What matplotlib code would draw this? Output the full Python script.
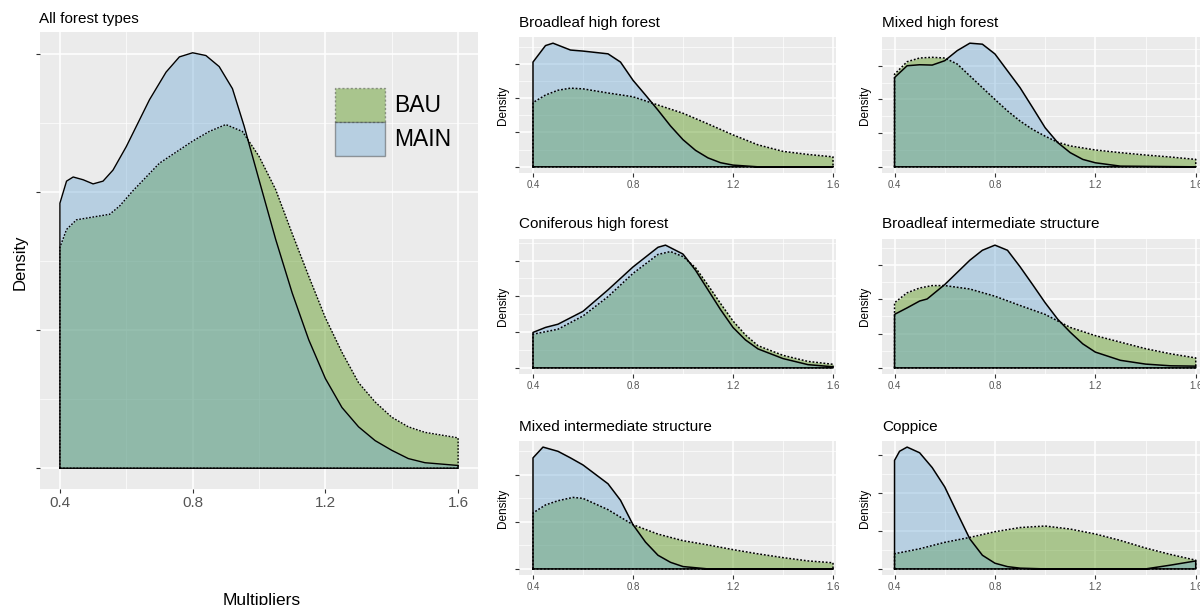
import matplotlib.pyplot as plt
from matplotlib.patches import Patch

plt.rcParams['font.family'] = ['Liberation Sans', 'DejaVu Sans']

# density readings per panel, x = multiplier
allX_MAIN = [0.40, 0.42, 0.44, 0.47, 0.50, 0.53, 0.56, 0.60, 0.67, 0.72, 0.76, 0.80, 0.84, 0.88,
	0.92, 0.955, 1.00, 1.05, 1.10, 1.15, 1.20, 1.25, 1.30, 1.35, 1.40, 1.45, 1.50, 1.55, 1.60]
allY_MAIN = [1.92, 2.08, 2.11, 2.09, 2.06, 2.08, 2.16, 2.33, 2.67, 2.87, 2.98, 3.01, 2.99, 2.91,
	2.75, 2.48, 2.09, 1.66, 1.27, 0.93, 0.65, 0.44, 0.30, 0.20, 0.13, 0.07, 0.04, 0.03, 0.02]
allX_BAU = [0.40, 0.42, 0.45, 0.50, 0.55, 0.58, 0.62, 0.70, 0.80, 0.85, 0.90, 0.95, 1.00, 1.05,
	1.10, 1.15, 1.20, 1.25, 1.30, 1.35, 1.40, 1.45, 1.50, 1.55, 1.60]
allY_BAU = [1.60, 1.73, 1.80, 1.82, 1.84, 1.90, 2.01, 2.21, 2.37, 2.44, 2.49, 2.44, 2.26, 2.02,
	1.70, 1.39, 1.09, 0.84, 0.62, 0.48, 0.37, 0.30, 0.26, 0.24, 0.22]

blhfX_MAIN = [0.40, 0.45, 0.48, 0.55, 0.60, 0.70, 0.75, 0.80, 0.85, 0.90, 0.95, 1.00, 1.05, 1.10,
	1.15, 1.20, 1.30, 1.60]
blhfY_MAIN = [3.05, 3.53, 3.60, 3.40, 3.37, 3.29, 3.05, 2.52, 2.09, 1.65, 1.19, 0.79, 0.48, 0.26,
	0.12, 0.05, 0.0, 0.0]
blhfX_BAU = [0.40, 0.45, 0.50, 0.55, 0.60, 0.70, 0.80, 0.90, 1.00, 1.10, 1.20, 1.30, 1.40, 1.50, 1.60]
blhfY_BAU = [1.87, 2.09, 2.23, 2.29, 2.27, 2.15, 2.04, 1.80, 1.56, 1.25, 0.93, 0.64, 0.45, 0.36, 0.29]

mxhfX_MAIN = [0.40, 0.45, 0.50, 0.55, 0.60, 0.65, 0.70, 0.75, 0.80, 0.85, 0.90, 0.95, 1.00, 1.05,
	1.10, 1.15, 1.20, 1.30, 1.60]
mxhfY_MAIN = [2.65, 3.00, 3.03, 3.02, 3.15, 3.45, 3.67, 3.64, 3.35, 2.85, 2.35, 1.76, 1.16, 0.72,
	0.42, 0.22, 0.12, 0.02, 0.0]
mxhfX_BAU = [0.40, 0.45, 0.50, 0.55, 0.60, 0.65, 0.70, 0.75, 0.80, 0.85, 0.90, 0.95, 1.00, 1.05,
	1.10, 1.20, 1.30, 1.40, 1.50, 1.60]
mxhfY_BAU = [2.75, 3.12, 3.23, 3.25, 3.23, 3.05, 2.70, 2.35, 2.00, 1.66, 1.36, 1.11, 0.91, 0.73,
	0.62, 0.50, 0.42, 0.35, 0.29, 0.22]

cnhfX_MAIN = [0.40, 0.45, 0.50, 0.60, 0.70, 0.80, 0.90, 0.93, 1.00, 1.05, 1.10, 1.15, 1.20, 1.25,
	1.30, 1.40, 1.50, 1.60]
cnhfY_MAIN = [0.99, 1.13, 1.22, 1.58, 2.18, 2.82, 3.37, 3.43, 3.18, 2.73, 2.18, 1.63, 1.13, 0.78,
	0.53, 0.26, 0.09, 0.03]
cnhfX_BAU = [0.40, 0.50, 0.60, 0.70, 0.80, 0.90, 0.95, 1.00, 1.05, 1.10, 1.15, 1.20, 1.25, 1.30,
	1.40, 1.50, 1.60]
cnhfY_BAU = [0.94, 1.08, 1.45, 1.99, 2.64, 3.17, 3.25, 3.11, 2.80, 2.31, 1.80, 1.31, 0.92, 0.62,
	0.35, 0.18, 0.10]

blisX_MAIN = [0.40, 0.45, 0.50, 0.53, 0.60, 0.70, 0.75, 0.80, 0.85, 0.90, 0.95, 1.00, 1.05, 1.10,
	1.15, 1.20, 1.30, 1.40, 1.50, 1.60]
blisY_MAIN = [1.56, 1.75, 1.95, 2.01, 2.43, 3.14, 3.43, 3.58, 3.43, 2.95, 2.43, 1.90, 1.42, 1.04,
	0.70, 0.46, 0.22, 0.11, 0.06, 0.05]
blisX_BAU = [0.40, 0.45, 0.50, 0.55, 0.60, 0.70, 0.80, 0.90, 1.00, 1.10, 1.20, 1.30, 1.40, 1.50, 1.60]
blisY_BAU = [1.90, 2.19, 2.33, 2.40, 2.40, 2.30, 2.09, 1.82, 1.56, 1.18, 0.94, 0.75, 0.56, 0.41, 0.29]

mxisX_MAIN = [0.40, 0.44, 0.50, 0.55, 0.60, 0.65, 0.70, 0.75, 0.80, 0.85, 0.90, 0.95, 1.00, 1.10, 1.60]
mxisY_MAIN = [2.36, 2.59, 2.50, 2.36, 2.21, 2.01, 1.81, 1.46, 0.94, 0.57, 0.29, 0.14, 0.05, 0.0, 0.0]
mxisX_BAU = [0.40, 0.45, 0.50, 0.56, 0.60, 0.70, 0.80, 0.90, 1.00, 1.10, 1.20, 1.30, 1.40, 1.50, 1.60]
mxisY_BAU = [1.19, 1.36, 1.45, 1.52, 1.50, 1.26, 0.94, 0.74, 0.60, 0.51, 0.41, 0.32, 0.24, 0.17, 0.13]

copX_MAIN = [0.40, 0.42, 0.45, 0.50, 0.55, 0.60, 0.65, 0.70, 0.75, 0.80, 0.85, 0.90, 1.00, 1.40,
	1.50, 1.60]
copY_MAIN = [2.86, 3.10, 3.21, 3.06, 2.67, 2.16, 1.47, 0.79, 0.36, 0.15, 0.06, 0.02, 0.0, 0.0,
	0.10, 0.21]
copX_BAU = [0.40, 0.50, 0.60, 0.70, 0.80, 0.90, 1.00, 1.10, 1.20, 1.30, 1.40, 1.50, 1.60]
copY_BAU = [0.40, 0.53, 0.70, 0.83, 0.98, 1.09, 1.13, 1.05, 0.92, 0.75, 0.55, 0.38, 0.23]

panelTitles = ["Broadleaf high forest", "Mixed high forest", "Coniferous high forest",
	"Broadleaf intermediate structure", "Mixed intermediate structure", "Coppice"]
xTicks = [0.4, 0.8, 1.2, 1.6]
xTickLabels = ["0.4", "0.8", "1.2", "1.6"]
scenarios = ["BAU", "MAIN"]

bauColor = '#468c02'
mainColor = '#6ba7d4'
fillAlpha = 0.4
panelGrey = '#ebebeb'

W, H = 1200.0, 605.0

def pxAxes(fig, left, top, right, bottom):
	return fig.add_axes([left / W, 1 - bottom / H, (right - left) / W, (bottom - top) / H])

def outline(xs, ys):
	# closed polygon like geom_density draws it
	return [xs[0]] + xs + [xs[-1], xs[0]], [0] + ys + [0, 0]

def plotPanel(ax, xMain, yMain, xBau, yBau, xlim, lw, tickSize):
	ymax = max(max(yMain), max(yBau))
	ax.set_facecolor(panelGrey)
	ax.fill_between(xBau, yBau, 0, color=bauColor, alpha=fillAlpha, lw=0)
	ax.fill_between(xMain, yMain, 0, color=mainColor, alpha=fillAlpha, lw=0)
	bx, by = outline(xBau, yBau)
	ax.plot(bx, by, color='black', lw=lw, ls=(0, (1.2, 1.2)), solid_joinstyle='round')
	mx, my = outline(xMain, yMain)
	ax.plot(mx, my, color='black', lw=lw, solid_joinstyle='round')

	ax.set_xlim(xlim)
	ax.set_ylim(-0.05 * ymax, 1.05 * ymax)
	ax.set_xticks(xTicks)
	ax.set_xticklabels(xTickLabels)
	ax.set_xticks([0.6, 1.0, 1.4], minor=True)
	yt = list(range(0, int(1.05 * ymax) + 1))
	ax.set_yticks(yt)
	ax.set_yticks([v + 0.5 for v in yt if v + 0.5 < 1.05 * ymax], minor=True)
	ax.tick_params(axis='y', labelleft=False)
	ax.tick_params(which='major', length=3, width=0.8, color='#333333', pad=2,
		labelsize=tickSize, labelcolor='#555555')
	ax.tick_params(which='minor', length=0)
	ax.grid(which='major', color='white', lw=1.1)
	ax.grid(which='minor', color='white', lw=0.5)
	ax.set_axisbelow(True)
	for s in ax.spines.values():
		s.set_visible(False)


fig = plt.figure(figsize=(12, 6.05), dpi=100, facecolor='white')

# big panel: all forest types
ax0 = pxAxes(fig, 40, 32, 478, 489)
plotPanel(ax0, allX_MAIN, allY_MAIN, allX_BAU, allY_BAU, (0.34, 1.66), 1.0, 11)
fig.text(39 / W, 1 - 23 / H, "All forest types", fontsize=11, va='baseline', ha='left')
fig.text(20 / W, 1 - 262 / H, "Density", fontsize=12, rotation=90, va='center', ha='center')
fig.text(262 / W, 1 - 605 / H, "Multipliers", fontsize=12.5, va='baseline', ha='center')

handles = [Patch(facecolor=bauColor, alpha=fillAlpha, edgecolor='#222222', ls=(0, (1.5, 1.5)), lw=1.0),
	Patch(facecolor=mainColor, alpha=fillAlpha, edgecolor='#444444', lw=1.0)]
leg = ax0.legend(handles, scenarios, loc='upper left', bbox_to_anchor=(335 / W, 1 - 88 / H),
	bbox_transform=fig.transFigure, frameon=False, fontsize=16.5, handlelength=2.2,
	handleheight=1.9, labelspacing=0, handletextpad=0.4, borderpad=0, borderaxespad=0)
for lh in leg.legend_handles:
	lh.set_edgecolor('#222222')

# small panels, 2 columns x 3 rows
panelData = [
	(blhfX_MAIN, blhfY_MAIN, blhfX_BAU, blhfY_BAU),
	(mxhfX_MAIN, mxhfY_MAIN, mxhfX_BAU, mxhfY_BAU),
	(cnhfX_MAIN, cnhfY_MAIN, cnhfX_BAU, cnhfY_BAU),
	(blisX_MAIN, blisY_MAIN, blisX_BAU, blisY_BAU),
	(mxisX_MAIN, mxisY_MAIN, mxisX_BAU, mxisY_BAU),
	(copX_MAIN, copY_MAIN, copX_BAU, copY_BAU),
]
cols = [(519, 836, 503, (0.344, 1.612)), (882, 1200, 865, (0.35, 1.617))]
rows = [(37, 173, 27), (239, 374, 228), (441, 575, 431)]

for i in range(6):
	left, right, labX, xl = cols[i % 2]
	top, bottom, titleY = rows[i // 2]
	ax = pxAxes(fig, left, top, right, bottom)
	xm, ym, xb, yb = panelData[i]
	plotPanel(ax, xm, ym, xb, yb, xl, 1.1, 7)
	fig.text(left / W, 1 - titleY / H, panelTitles[i], fontsize=11, va='baseline', ha='left')
	fig.text(labX / W, 1 - (top + bottom) / 2 / H, "Density", fontsize=8.5, rotation=90,
		va='center', ha='center')

fig.savefig('out.png', dpi=100, facecolor='white')
